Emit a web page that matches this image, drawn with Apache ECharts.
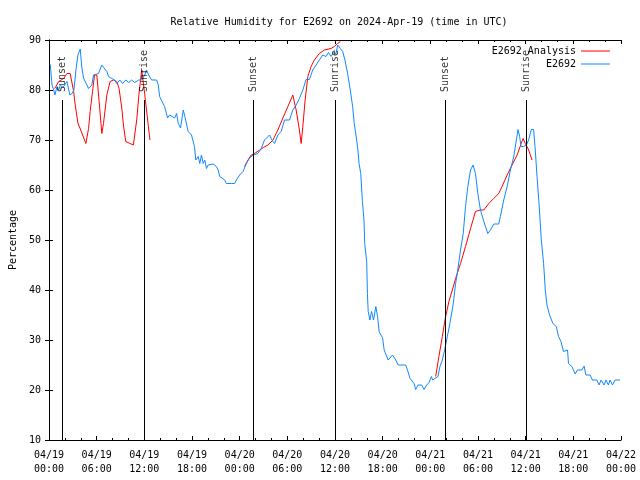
<!DOCTYPE html>
<html>
<head>
<meta charset="utf-8">
<script src="https://cdn.jsdelivr.net/npm/echarts@6/dist/echarts.min.js"></script>
<style>html,body{margin:0;padding:0;background:#fff}#c{width:640px;height:480px}</style>
</head>
<body>
<div id="c"></div>
<script>
// ---- data (hours since 2024-04-19 00:00 UTC) ----
const xTickLabels = ['04/19\n00:00','04/19\n06:00','04/19\n12:00','04/19\n18:00','04/20\n00:00','04/20\n06:00','04/20\n12:00','04/20\n18:00','04/21\n00:00','04/21\n06:00','04/21\n12:00','04/21\n18:00','04/22\n00:00'];
const yTicks = [10,20,30,40,50,60,70,80,90];

const blueHours = [0.16,0.38,0.59,0.75,1.0,1.22,1.42,1.76,2.0,2.26,2.63,2.89,3.14,3.39,3.64,3.93,4.14,4.35,4.77,4.98,5.39,5.61,6.23,6.65,6.86,7.28,7.49,7.9,8.28,8.53,8.91,9.28,9.66,10.04,10.41,10.79,11.29,11.67,12.04,12.29,12.54,12.92,13.55,13.76,13.92,14.17,14.55,14.93,15.18,15.43,15.81,16.06,16.27,16.56,16.9,17.1,17.52,17.94,18.31,18.48,18.78,18.98,19.19,19.41,19.61,19.82,20.03,20.66,21.07,21.29,21.49,22.12,22.33,22.96,23.37,23.58,24.0,24.42,24.84,25.21,25.68,26.3,26.72,27.13,27.76,28.06,28.39,28.81,29.23,29.64,30.27,30.69,31.11,31.52,31.95,32.36,32.78,33.2,33.62,34.03,34.46,34.87,35.18,35.5,35.81,36.13,36.34,36.67,36.97,37.25,37.59,37.92,38.22,38.42,38.64,38.85,39.03,39.24,39.45,39.65,39.74,39.99,40.08,40.18,40.39,40.6,40.85,41.14,41.36,41.56,41.77,41.98,42.19,42.69,43.24,43.65,43.94,44.9,45.12,45.45,45.66,45.95,46.16,46.45,46.91,47.2,47.54,47.83,48.13,48.29,48.54,48.96,49.21,49.51,49.8,50.14,50.46,50.89,51.18,51.39,51.8,52.14,52.43,52.72,53.06,53.39,53.68,53.98,54.31,54.73,55.23,55.57,55.98,56.61,56.82,57.24,57.67,58.08,58.5,58.83,59.04,59.24,59.42,59.75,60.09,60.38,60.71,61.0,61.21,61.43,61.68,61.97,62.26,62.47,62.68,63.01,63.43,63.85,64.14,64.44,64.76,65.27,65.39,65.82,66.23,66.52,67.07,67.36,67.57,68.11,68.4,68.96,69.24,69.49,69.87,70.12,70.41,70.62,70.93,71.25,71.88];
const blueValues = [85.1,81,80,79,80.7,80,81,80.5,80.5,81.7,79,79.3,80,84,87,88.2,84.4,82.4,81,80.3,81,83,83.3,85,85.3,83.7,82.7,82.3,82,81.3,82,81.3,82,81.5,82,81.5,82,82,83,84,83,82,82,81,78.7,78.4,76.7,74.4,75,75.3,74.4,75.3,73.3,72.4,76,74.7,71.7,71,68.7,66,66.7,65.3,67,65.3,66,64.3,65,65.2,64.7,64,62.7,62,61.3,61.3,61.3,62,63,63.7,65.3,66.3,67,67.3,68.3,70,71,70,69.3,71,71.7,74,74,76,77,78.3,80,82.1,82.1,84,85,86,87,86.7,87.5,86.7,87.5,87.3,89,88.3,87.7,86,83.3,80,76.7,73.3,71,68.5,65.3,63.3,57.7,54,49.3,45.7,39.3,35.7,34,35.7,34,36.7,34.7,31.7,31,30.5,28,26,27,26,25,25,24,22.3,22.7,21.3,20.1,21,21,20.1,21,21.5,22.7,22,21.9,22.7,24.7,26,28,30.7,33.3,37.3,41.3,43.3,48,51.3,56.7,60.7,64,65,63.3,59.3,56,53.7,51.3,52,53.2,53.2,54.7,58,60.7,64,66.7,70,72.1,70.7,68.7,68.7,69,70,72.1,72.1,68,62.7,57.3,50,45.3,40,37,35,33.3,32.7,30.7,29.7,27.7,28,25.3,24.7,23.2,24,24,24.8,23,23,22,22,21,22,21,22,21,22,21,22,22];

const redHours = [0.72,1.22,1.84,2.26,2.67,3.1,3.3,3.64,4.14,4.64,4.98,5.18,5.48,5.73,6.02,6.31,6.65,6.86,7.28,7.69,8.12,8.53,8.82,9.16,9.37,9.66,10.2,10.62,11.04,11.33,11.67,12.04,12.51,12.71,
  18,
  24.62,25.05,25.46,25.88,26.51,26.97,27.56,28.19,28.81,29.44,30.07,30.69,31.11,31.52,31.74,31.95,32.24,32.58,32.99,33.4,34.03,34.66,35.5,35.91,36.34,36.67,
  42,
  48.67,49.08,49.51,49.92,50.34,50.77,51.18,51.8,52.43,53.06,53.68,54.31,54.73,55.36,55.98,56.61,57.03,57.67,58.29,58.92,59.67,59.96,60.38,60.8];
const redValues = [80.3,81.7,82.3,83.3,83.3,79.7,77,73.4,71.4,69.3,72.3,75.7,79.7,83,83,77.7,71.3,73.3,79,81.7,82,81.7,80.3,76.4,73,69.7,69.3,69,74,79.3,84,79.3,72.7,70,
  null,
  64.7,66,67,67.3,68,68.5,69,70,72,74.4,76.7,79,76,72,69.3,72.7,78,82.7,84.7,86,87.3,88,88.3,88.7,89.3,89.7,
  null,
  22.7,26.7,30.7,34.7,37.7,40,42.3,45.3,48.7,52.3,55.7,56,56,57.3,58.3,59.3,60.7,63,65,67,70.3,69.3,68,66];

const sunHours = [1.72, 11.95, 25.75, 36.04, 49.84, 60.05];
const sunNames = ['Sunset','Sunrise','Sunset','Sunrise','Sunset','Sunrise'];

// ---- chart ----
const F = 'DejaVu Sans Mono';
const txt = {fontFamily: F, fontSize: 10, color: '#000'};
const pair = (hs, vs) => hs.map((h, i) => [h, vs[i] == null ? '-' : vs[i]]);
const LINE_TOP = 78, LABEL_AT = 79.6;

const axisCommon = {
  axisLine: {show: true, lineStyle: {color: '#000', width: 1}},
  axisTick: {show: true, inside: true, length: 4, lineStyle: {color: '#000'}},
  splitLine: {show: false}
};
const legendCommon = {right: 30, orient: 'vertical', align: 'right', padding: 0,
  icon: 'rect', itemWidth: 29, itemHeight: 1, textStyle: txt};

const chart = echarts.init(document.getElementById('c'), null, {renderer: 'canvas'});
chart.setOption({
  animation: false,
  backgroundColor: '#fff',
  title: {
    text: 'Relative Humidity for E2692 on 2024-Apr-19 (time in UTC)',
    left: 334, top: 12, textAlign: 'center',
    textStyle: Object.assign({fontWeight: 'normal'}, txt)
  },
  legend: [
    Object.assign({data: ['E2692 Analysis'], top: 46}, legendCommon),
    Object.assign({data: ['E2692'], top: 59}, legendCommon)
  ],
  grid: {left: 47, right: 19, top: 40, bottom: 40, containLabel: false},
  xAxis: [
    Object.assign({}, axisCommon, {
      type: 'value', min: 0, max: 72, interval: 6, position: 'bottom',
      minorTick: {show: true, splitNumber: 3, length: 2, lineStyle: {color: '#000'}},
      axisLabel: Object.assign({margin: 8, lineHeight: 14, formatter: v => xTickLabels[Math.round(v / 6)]}, txt)
    }),
    Object.assign({}, axisCommon, {
      type: 'value', min: 0, max: 72, interval: 6, position: 'top',
      minorTick: {show: true, splitNumber: 3, length: 2, lineStyle: {color: '#000'}},
      axisLabel: {show: false}
    })
  ],
  yAxis: [
    Object.assign({}, axisCommon, {
      type: 'value', min: 10, max: 90, interval: 10, position: 'left',
      name: 'Percentage', nameLocation: 'middle', nameGap: 31, nameTextStyle: txt,
      axisLabel: Object.assign({margin: 8, formatter: v => yTicks.includes(v) ? String(v) : ''}, txt)
    }),
    Object.assign({}, axisCommon, {
      type: 'value', min: 10, max: 90, interval: 10, position: 'right',
      axisLabel: {show: false}
    })
  ],
  series: [
    {
      name: 'E2692 Analysis', type: 'line', data: pair(redHours, redValues),
      symbol: 'none', connectNulls: false,
      lineStyle: {color: '#ff0000', width: 1}, itemStyle: {color: '#ff0000'}
    },
    {
      name: 'E2692', type: 'line', data: pair(blueHours, blueValues),
      symbol: 'none',
      lineStyle: {color: '#1188ff', width: 1}, itemStyle: {color: '#1188ff'}
    },
    {
      name: 'sun', type: 'scatter', data: sunHours.map(h => [h, LABEL_AT]),
      symbolSize: 0, silent: true, z: 5,
      itemStyle: {color: 'rgba(0,0,0,0)'},
      label: Object.assign({show: true, position: 'inside', rotate: 90, align: 'left', verticalAlign: 'middle',
        formatter: p => sunNames[p.dataIndex]}, txt),
      markLine: {
        silent: true, symbol: ['none', 'none'], label: {show: false},
        lineStyle: {color: '#000', width: 1, type: 'solid'},
        data: sunHours.map(h => [{coord: [h, 10]}, {coord: [h, LINE_TOP]}])
      }
    }
  ]
});
</script>
</body>
</html>
